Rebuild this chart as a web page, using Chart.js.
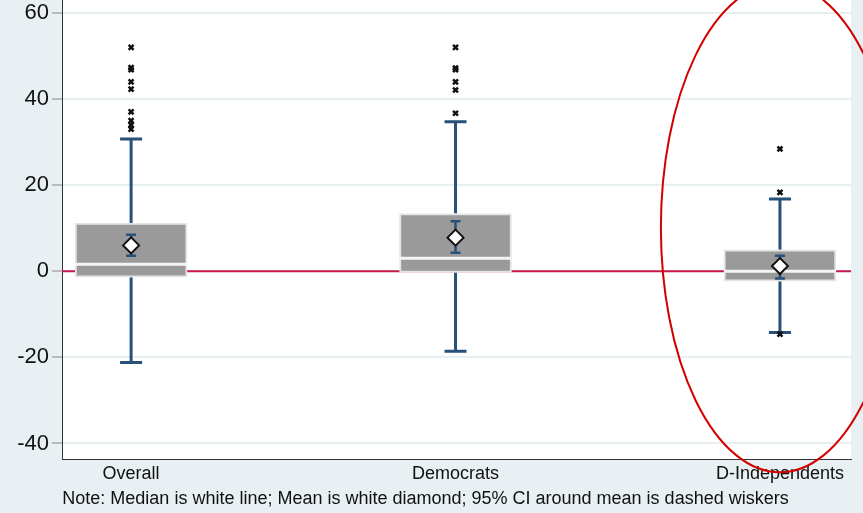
<!DOCTYPE html>
<html>
<head>
<meta charset="utf-8">
<script src="https://cdn.jsdelivr.net/npm/chart.js@4/dist/chart.umd.min.js"></script>
<style>
  html, body { margin: 0; padding: 0; background: #e8f0f3; }
  #wrap { width: 863px; height: 513px; }
</style>
</head>
<body>
<div id="wrap"><canvas id="myChart"></canvas></div>
<script>
// groups
const categories = ['Overall', 'Democrats', 'D-Independents'];

// box stats
const q1 = [-1.4, -0.3, -2.3];
const medians = [1.6, 3.0, 0.0];
const q3 = [11.2, 13.4, 5.0];
const whiskerLow = [-21.2, -18.6, -14.2];
const whiskerHigh = [30.7, 34.7, 16.8];
const means = [6.0, 7.8, 1.2];
const ciLow = [3.6, 4.3, -1.7];
const ciHigh = [8.5, 11.6, 3.6];

// outside values
const outliers = [
    [52, 47.3, 46.8, 44, 42.3, 37, 35, 34, 33],
    [52, 47.2, 46.8, 44, 42.1, 36.7],
    [28.4, 18.3, -14.6]
];

const yTicks = [-40, -20, 0, 20, 40, 60];
const noteText = 'Note: Median is white line; Mean is white diamond; 95% CI around mean is dashed wiskers';

const whiskerColor = '#27507a';

const boxData = categories.map((c, i) => ({x: i, y: [q1[i], q3[i]]}));
const meanData = categories.map((c, i) => ({x: i, y: means[i]}));
const outlierData = [];
outliers.forEach((list, i) => list.forEach(v => outlierData.push({x: i, y: v})));

const boxPlugin = {
    id: 'boxParts',
    beforeDraw(chart) {
        const {ctx, chartArea} = chart;
        ctx.save();
        ctx.fillStyle = '#ffffff';
        ctx.fillRect(chartArea.left, chartArea.top, chartArea.right - chartArea.left, chartArea.bottom - chartArea.top);
        ctx.restore();
    },
    beforeDatasetsDraw(chart) {
        const {ctx, chartArea} = chart;
        const xs = chart.scales.x, ys = chart.scales.y;
        ctx.save();
        // zero line
        ctx.strokeStyle = '#c8184a';
        ctx.lineWidth = 2;
        ctx.beginPath();
        ctx.moveTo(chartArea.left, ys.getPixelForValue(0));
        ctx.lineTo(chartArea.right, ys.getPixelForValue(0));
        ctx.stroke();
        // whiskers
        ctx.strokeStyle = whiskerColor;
        ctx.lineWidth = 3;
        categories.forEach((c, i) => {
            const x = xs.getPixelForValue(i);
            const top = ys.getPixelForValue(whiskerHigh[i]);
            const bot = ys.getPixelForValue(whiskerLow[i]);
            ctx.beginPath();
            ctx.moveTo(x, ys.getPixelForValue(q3[i]));
            ctx.lineTo(x, top);
            ctx.moveTo(x, ys.getPixelForValue(q1[i]));
            ctx.lineTo(x, bot);
            ctx.moveTo(x - 11, top);
            ctx.lineTo(x + 11, top);
            ctx.moveTo(x - 11, bot);
            ctx.lineTo(x + 11, bot);
            ctx.stroke();
        });
        ctx.restore();
    },
    afterDatasetDraw(chart, args) {
        if (args.index !== 0) return;
        const {ctx} = chart;
        const xs = chart.scales.x, ys = chart.scales.y;
        ctx.save();
        categories.forEach((c, i) => {
            const x = xs.getPixelForValue(i);
            const m = ys.getPixelForValue(medians[i]);
            ctx.strokeStyle = '#f4f4f4';
            ctx.lineWidth = 3;
            ctx.beginPath();
            ctx.moveTo(x - 56, m);
            ctx.lineTo(x + 56, m);
            ctx.stroke();
            // CI around mean
            const hi = ys.getPixelForValue(ciHigh[i]);
            const lo = ys.getPixelForValue(ciLow[i]);
            ctx.strokeStyle = whiskerColor;
            ctx.lineWidth = 2.5;
            ctx.beginPath();
            ctx.moveTo(x, hi);
            ctx.lineTo(x, lo);
            ctx.moveTo(x - 5, hi);
            ctx.lineTo(x + 5, hi);
            ctx.moveTo(x - 5, lo);
            ctx.lineTo(x + 5, lo);
            ctx.stroke();
        });
        ctx.restore();
    },
    afterDraw(chart) {
        // red ellipse mark around D-Independents
        const {ctx} = chart;
        const xs = chart.scales.x, ys = chart.scales.y;
        const cx = xs.getPixelForValue(2.0);
        const cy = ys.getPixelForValue(10.1);
        const rx = xs.getPixelForValue(2.367) - cx;
        const ry = ys.getPixelForValue(10.1 - 56.8) - cy;
        ctx.save();
        ctx.strokeStyle = '#d40000';
        ctx.lineWidth = 2;
        ctx.beginPath();
        ctx.ellipse(cx, cy, rx, ry, 0, 0, Math.PI * 2);
        ctx.stroke();
        ctx.restore();
    }
};

var ctx = document.getElementById('myChart').getContext('2d');
var myChart = new Chart(ctx, {
    type: 'bar',
    data: {
        datasets: [{
            type: 'bar',
            label: 'box',
            data: boxData,
            backgroundColor: '#9a9a9a',
            borderColor: '#e4e4e4',
            borderWidth: 2,
            borderSkipped: false,
            barThickness: 112,
            grouped: false,
            order: 3
        }, {
            type: 'scatter',
            label: 'outliers',
            data: outlierData,
            pointStyle: 'crossRot',
            pointRadius: 3.5,
            borderColor: '#111111',
            borderWidth: 2.5,
            order: 2
        }, {
            type: 'scatter',
            label: 'mean',
            data: meanData,
            pointStyle: 'rectRot',
            pointRadius: 8,
            backgroundColor: '#ffffff',
            borderColor: '#111111',
            borderWidth: 2,
            order: 1
        }]
    },
    options: {
        responsive: true,
        maintainAspectRatio: false,
        animation: false,
        layout: { autoPadding: false, padding: { left: 0, right: 12, top: 0, bottom: 0 } },
        plugins: {
            legend: { display: false },
            tooltip: { enabled: false },
            title: {
                display: true,
                position: 'bottom',
                text: noteText,
                color: '#111111',
                font: { family: 'Liberation Sans', size: 18, weight: 'normal' },
                padding: { top: 5, bottom: 3 }
            }
        },
        scales: {
            x: {
                type: 'linear',
                offset: false,
                min: -0.213,
                max: 2.219,
                afterFit: (s) => { s.height = 24; s.paddingLeft = 0; s.paddingRight = 0; },
                afterBuildTicks: (s) => { s.ticks = categories.map((c, i) => ({value: i})); },
                ticks: {
                    callback: (v) => categories[v],
                    color: '#111111',
                    font: { family: 'Liberation Sans', size: 18 },
                    padding: 4,
                    maxRotation: 0,
                    autoSkip: false
                },
                grid: { display: false, drawTicks: false },
                border: { display: true, color: '#333333', width: 1 }
            },
            y: {
                min: -43.7,
                max: 63,
                afterFit: (s) => { s.width = 62; s.paddingTop = 0; s.paddingBottom = 0; },
                afterBuildTicks: (s) => { s.ticks = yTicks.map(v => ({value: v})); },
                ticks: {
                    color: '#111111',
                    font: { family: 'Liberation Sans', size: 22 },
                    padding: 3
                },
                grid: {
                    color: '#e8eff1',
                    lineWidth: 2,
                    tickColor: '#888888',
                    tickLength: 10,
                    tickWidth: 1
                },
                border: { display: true, color: '#333333', width: 1 }
            }
        }
    },
    plugins: [boxPlugin]
});
</script>
</body>
</html>
